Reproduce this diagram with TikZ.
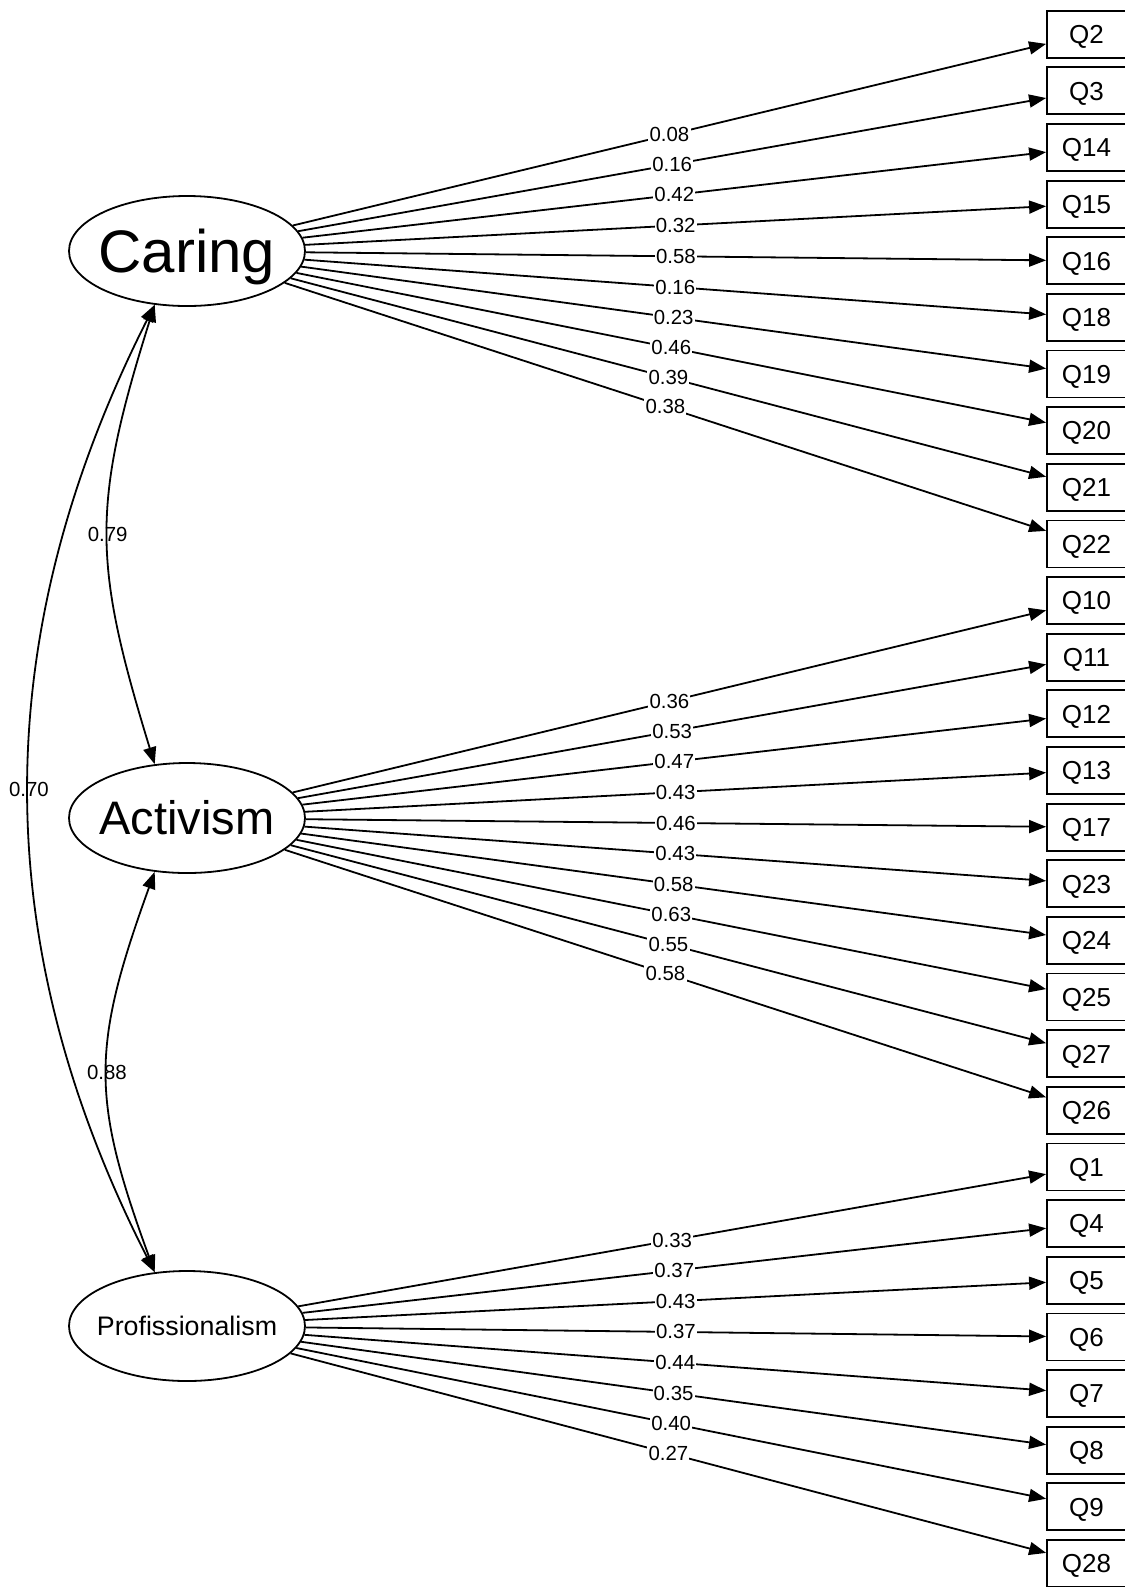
\documentclass[tikz,border=0pt]{standalone}
\usepackage{fontspec}
\setmainfont{Liberation Sans}
\usetikzlibrary{shapes.geometric,arrows.meta}
\begin{document}
\begin{tikzpicture}[x=0.5pt,y=-0.5pt,
  lat/.style={draw,ellipse,line width=0.9pt,minimum width=118pt,minimum height=55pt,inner sep=0pt,text depth=0pt},
  obs/.style={draw,rectangle,line width=0.9pt,minimum width=39.5pt,minimum height=23.5pt,inner sep=0pt,text height=9.3pt,text depth=0pt,font=\fontsize{13}{15}\selectfont},
  load/.style={line width=0.9pt,-{Triangle[length=8.5pt,width=6.5pt]}},
  cov/.style={line width=0.9pt,{Triangle[length=8.5pt,width=6.5pt]}-{Triangle[length=8.5pt,width=6.5pt]}},
  lab/.style={fill=white,inner sep=0.6pt,font=\fontsize{10.2}{12}\selectfont},
  clab/.style={inner sep=0pt,font=\fontsize{10.2}{12}\selectfont}]
\useasboundingbox (0,0) rectangle (1125,1587);
\clip (0,0) rectangle (1125,1587);
\fill[white] (0,0) rectangle (1125,1587);

% latent variables
\node[lat,font=\fontsize{30}{36}\selectfont,text height=21.5pt] (car) at (187,251) {\makebox[0pt]{Caring}};
\node[lat,font=\fontsize{23.5}{28}\selectfont,text height=16.8pt] (act) at (187,818) {\makebox[0pt]{Activism}};
\node[lat,font=\fontsize{13.4}{16}\selectfont,text height=9.6pt] (pro) at (187,1326) {\makebox[0pt]{Profissionalism}};

% observed variables
\foreach \n [count=\i from 0] in {2,3,14,15,16,18,19,20,21,22,10,11,12,13,17,23,24,25,27,26,1,4,5,6,7,8,9,28}
  \node[obs] (q\n) at (1086.5,{34.2+56.64*\i}) {Q\n};

% loadings
\foreach \n/\v in {2/0.08,3/0.16,14/0.42,15/0.32,16/0.58,18/0.16,19/0.23,20/0.46,21/0.39,22/0.38}
  \draw[load] (car) -- node[lab]{\v} (q\n);
\foreach \n/\v in {10/0.36,11/0.53,12/0.47,13/0.43,17/0.46,23/0.43,24/0.58,25/0.63,27/0.55,26/0.58}
  \draw[load] (act) -- node[lab]{\v} (q\n);
\foreach \n/\v in {1/0.33,4/0.37,5/0.43,6/0.37,7/0.44,8/0.35,9/0.40,28/0.27}
  \draw[load] (pro) -- node[lab]{\v} (q\n);

% covariances
\draw[cov] (car.239) .. controls (91,507) and (93,563) .. node[clab,pos=0.5]{0.79} (act.121);
\draw[cov] (act.239) .. controls (91,1048) and (91,1098) .. node[clab,pos=0.5]{0.88} (pro.121);
\draw[cov] (car.239) .. controls (-13,637) and (-13,943) .. node[clab,pos=0.5]{0.70} (pro.121);
\end{tikzpicture}
\end{document}
